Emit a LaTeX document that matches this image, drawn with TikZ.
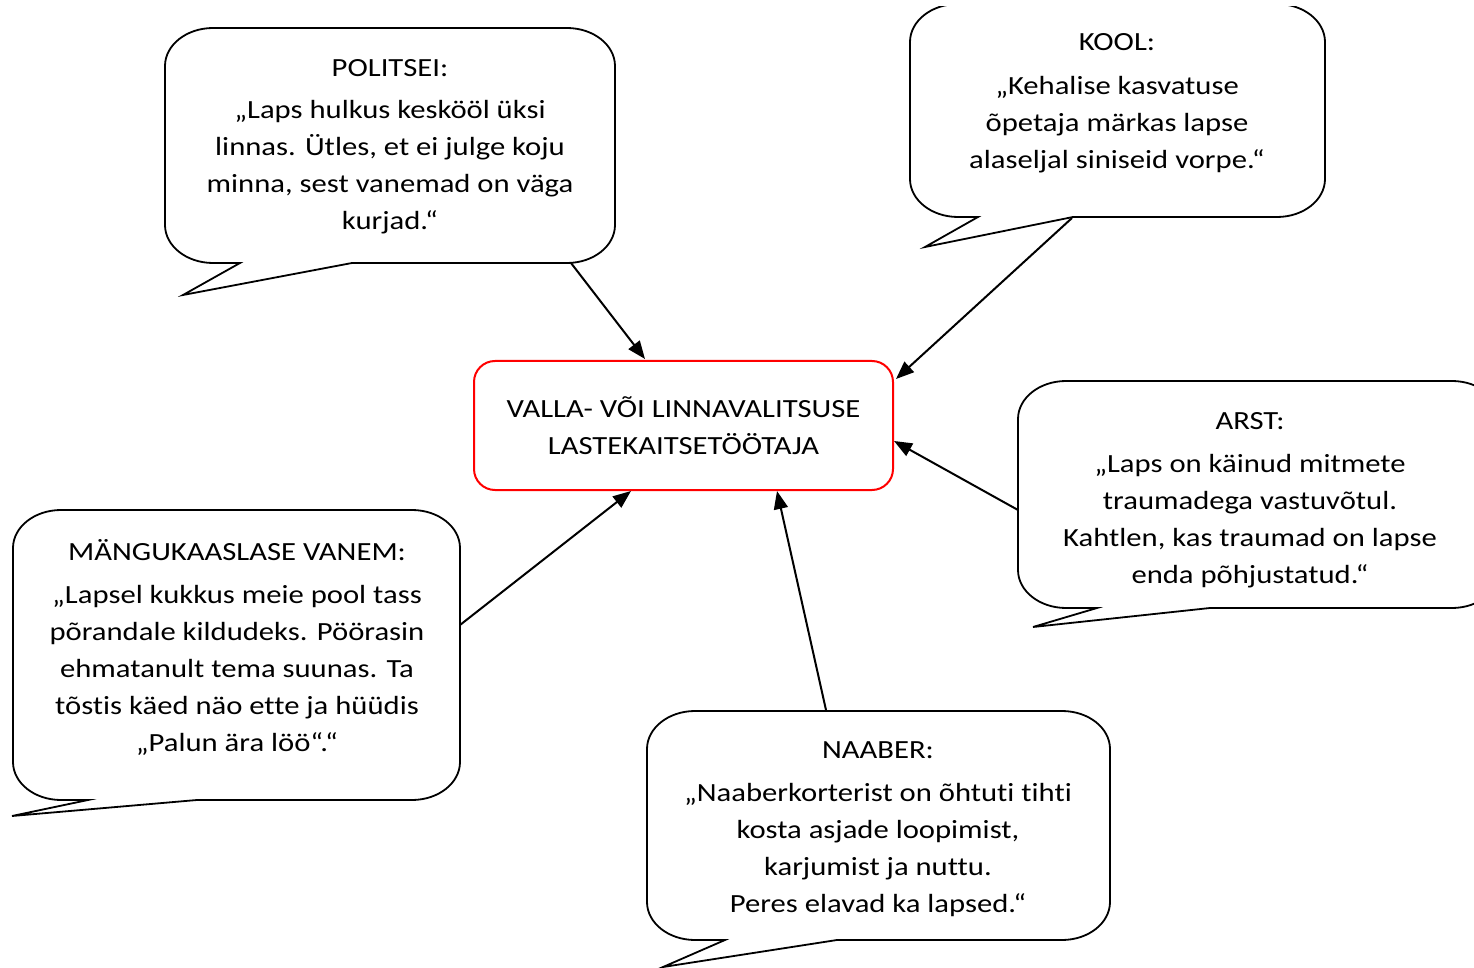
\documentclass[tikz,border=0pt]{standalone}
\usepackage{fontspec}
\setmainfont{Carlito}[Ligatures=NoCommon,FakeStretch=1.17]
\usetikzlibrary{arrows.meta}
\tikzset{
  bubble/.style={draw=black, line width=0.9pt},
  btext/.style={align=center, font=\fontsize{13.1}{18.5}\selectfont, inner sep=0pt},
  conn/.style={draw=black, line width=1pt, -{Triangle[length=9pt,width=7pt]}},
  mainbox/.style={draw=red, line width=1pt, rounded corners=10.5pt, minimum width=209.5pt, minimum height=64.5pt, align=center, font=\fontsize{13.1}{18.5}\selectfont, inner sep=0pt}
}
% \callout{L}{T}{R}{B}{ax}{tipx}{tipy}{bx}
\newcommand{\callout}[8]{%
  \pgfmathsetmacro\cbrx{48}\pgfmathsetmacro\cbry{38}%
  \draw[bubble] (#8,#4) -- ({#1+\cbrx},#4)
   .. controls ({#1+\cbrx*0.448},#4) and (#1,{#4-\cbry*0.448}) .. (#1,{#4-\cbry})
   -- (#1,{#2+\cbry})
   .. controls (#1,{#2+\cbry*0.448}) and ({#1+\cbrx*0.448},#2) .. ({#1+\cbrx},#2)
   -- ({#3-\cbrx},#2)
   .. controls ({#3-\cbrx*0.448},#2) and (#3,{#2+\cbry*0.448}) .. (#3,{#2+\cbry})
   -- (#3,{#4-\cbry})
   .. controls (#3,{#4-\cbry*0.448}) and ({#3-\cbrx*0.448},#4) .. ({#3-\cbrx},#4)
   -- (#5,#4) -- (#6,#7) -- cycle;}
\begin{document}
\begin{tikzpicture}[x=0.5pt,y=-0.5pt]
\useasboundingbox (0,0) rectangle (1474,968);
\clip (0,7) rectangle (1474,968);
% bubbles
\callout{165}{28}{615}{263}{352}{183}{295}{240}
\callout{910}{4}{1325}{217}{1073}{925}{247}{978}
\callout{1018}{381}{1500}{608}{1210}{1033}{627}{1097}
\callout{13}{510}{460}{800}{197}{12}{816}{88}
\callout{647}{711}{1110}{940}{837}{663}{967}{725}
% texts
\node[btext] (politsei) at (390,147) {POLITSEI:\\[2.5pt]„Laps hulkus keskööl üksi\\linnas. Ütles, et ei julge koju\\minna, sest vanemad on väga\\kurjad.“};
\node[btext] (kool) at (1117,103) {KOOL:\\[3.5pt]„Kehalise kasvatuse\\õpetaja märkas lapse\\alaseljal siniseid vorpe.“};
\node[btext] (arst) at (1250,500) {ARST:\\[3pt]„Laps on käinud mitmete\\traumadega vastuvõtul.\\Kahtlen, kas traumad on lapse\\enda põhjustatud.“};
\node[btext] (vanem) at (237,647) {MÄNGUKAASLASE VANEM:\\[3pt]„Lapsel kukkus meie pool tass\\põrandale kildudeks. Pöörasin\\ehmatanult tema suunas. Ta\\tõstis käed näo ette ja hüüdis\\„Palun ära löö“.“};
\node[btext] (naaber) at (878,829) {NAABER:\\[3pt]„Naaberkorterist on õhtuti tihti\\kosta asjade loopimist,\\karjumist ja nuttu.\\Peres elavad ka lapsed.“};
% central box
\node[mainbox] (box) at (683.5,425.5) {VALLA- VÕI LINNAVALITSUSE\\LASTEKAITSETÖÖTAJA};
% connector end points
\coordinate (pS) at (571,263);
\coordinate (pE) at (645,359);
\coordinate (kS) at (1072,218);
\coordinate (kE) at (896,379);
\coordinate (aS) at (1018,510);
\coordinate (aE) at (894,441);
\coordinate (vS) at (460,625);
\coordinate (vE) at (631,491);
\coordinate (nS) at (826,710);
\coordinate (nE) at (777,491);
\draw[conn] (pS) -- (pE);
\draw[conn] (kS) -- (kE);
\draw[conn] (aS) -- (aE);
\draw[conn] (vS) -- (vE);
\draw[conn] (nS) -- (nE);
\end{tikzpicture}
\end{document}
